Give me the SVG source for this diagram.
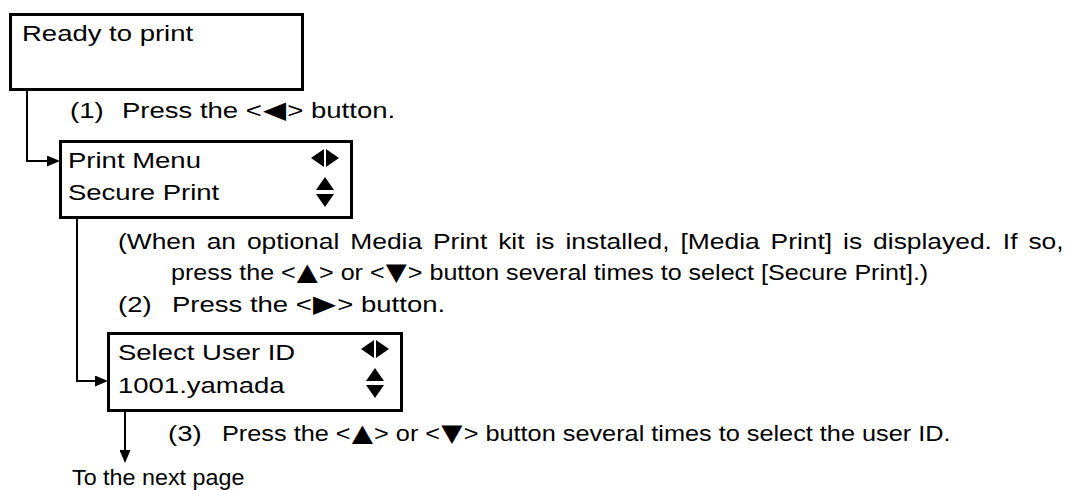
<svg xmlns="http://www.w3.org/2000/svg" width="1089" height="490" viewBox="0 0 1089 490">
  <style>
    .t { font-family: "Liberation Sans", Arial, sans-serif; font-size: 22px; fill: #000; }
    .tri { font-family: "DejaVu Sans", sans-serif; font-size: 24px; }
    .box { fill: #fff; stroke: #000; stroke-width: 3; }
    .con { fill: none; stroke: #000; stroke-width: 2; }
    .ico { fill: #000; }
  </style>
  <defs>
    <marker id="arr" markerUnits="userSpaceOnUse" markerWidth="13" markerHeight="11" refX="6" refY="5.5" orient="auto">
      <path d="M0,0 L13,5.5 L0,11 z" fill="#000"/>
    </marker>
  </defs>

  <rect width="1089" height="490" fill="#fff"/>

  <g id="connectors">
    <path class="con" d="M27 91 V161 H53" marker-end="url(#arr)"/>
    <path class="con" d="M77 219 V381 H101" marker-end="url(#arr)"/>
    <path class="con" d="M125 412 V456" marker-end="url(#arr)"/>
  </g>

  <g id="node-ready">
    <rect class="box" x="10.5" y="14.5" width="292" height="75"/>
    <text class="t" transform="translate(22 41) scale(1.25 1)">Ready to print</text>
  </g>

  <g id="node-print-menu">
    <rect class="box" x="60.5" y="141.5" width="291" height="76"/>
    <text class="t" transform="translate(68 168) scale(1.25 1)">Print Menu</text>
    <text class="t" transform="translate(68 200) scale(1.25 1)">Secure Print</text>
    <polygon class="ico" points="324,149 324,167 311,158"/>
    <polygon class="ico" points="326,149 326,167 339,158"/>
    <polygon class="ico" points="316,190 334,190 325,177"/>
    <polygon class="ico" points="316,194 334,194 325,207"/>
  </g>

  <g id="node-select-user">
    <rect class="box" x="108.5" y="333.5" width="293" height="77"/>
    <text class="t" transform="translate(118 360) scale(1.25 1)">Select User ID</text>
    <text class="t" transform="translate(118 393) scale(1.25 1)">1001.yamada</text>
    <polygon class="ico" points="374,340 374,358 361,349"/>
    <polygon class="ico" points="376,340 376,358 389,349"/>
    <polygon class="ico" points="366,381 384,381 375,368"/>
    <polygon class="ico" points="366,385 384,385 375,398"/>
  </g>

  <g id="steps">
    <text class="t" transform="translate(70 118) scale(1.25 1)">(1)</text>
    <text class="t" transform="translate(122 118) scale(1.25 1)">Press the &lt;<tspan class="tri" dx="1">◀</tspan><tspan dx="1">&gt; button.</tspan></text>
    <text class="t" transform="translate(118 249) scale(1.2 1)" style="word-spacing:3px">(When an optional Media Print kit is installed, [Media Print] is displayed. If so,</text>
    <text class="t" transform="translate(171 280) scale(1.14 1)">press the &lt;<tspan class="tri" dx="1">▲</tspan><tspan dx="1">&gt; or &lt;</tspan><tspan class="tri" dx="1">▼</tspan><tspan dx="1">&gt; button several times to select [Secure Print].)</tspan></text>
    <text class="t" transform="translate(118 312) scale(1.25 1)">(2)</text>
    <text class="t" transform="translate(172 312) scale(1.25 1)">Press the &lt;<tspan class="tri" dx="1">▶</tspan><tspan dx="1">&gt; button.</tspan></text>
    <text class="t" transform="translate(168 441) scale(1.25 1)">(3)</text>
    <text class="t" transform="translate(222 441) scale(1.15 1)">Press the &lt;<tspan class="tri" dx="1">▲</tspan><tspan dx="1">&gt; or &lt;</tspan><tspan class="tri" dx="1">▼</tspan><tspan dx="1">&gt; button several times to select the user ID.</tspan></text>
    <text class="t" transform="translate(72 485) scale(1.06 1)">To the next page</text>
  </g>
</svg>
